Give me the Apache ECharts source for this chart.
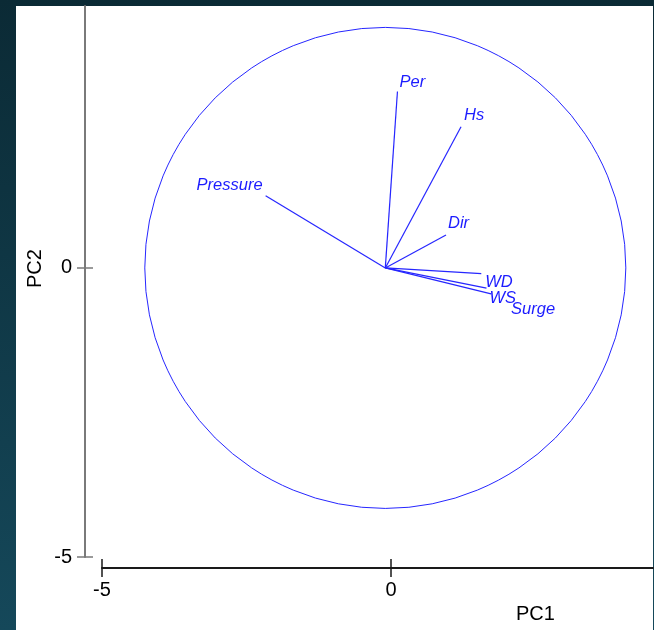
<!DOCTYPE html>
<html>
<head>
<meta charset="utf-8">
<script src="https://cdn.jsdelivr.net/npm/echarts@6/dist/echarts.min.js"></script>
<style>
html,body{margin:0;padding:0;background:#0d2f3b;}
#chart{width:654px;height:630px;}
</style>
</head>
<body>
<div id="chart"></div>
<script>
// Data
const variables = ['Per', 'Hs', 'Pressure', 'Dir', 'WD', 'WS', 'Surge'];
const pc1 = [0.11, 1.21, -2.17, 0.95, 1.56, 1.65, 1.73];
const pc2 = [3.05, 2.44, 1.25, 0.57, -0.10, -0.35, -0.45];
const origin = [-0.1, 0];
const circle = [[-0.1, 0, 4.16]];
const xTicks = [-5, 0];
const yTicks = [-5, 0];

// Styles (label placement relative to vector tip, pixels)
const labelPlace = {
  Per: {align: 'left', offset: [2, -9]},
  Hs: {align: 'left', offset: [3, -11]},
  Pressure: {align: 'right', offset: [-3, -10]},
  Dir: {align: 'left', offset: [2, -12]},
  WD: {align: 'left', offset: [4, 9]},
  WS: {align: 'left', offset: [3, 10]},
  Surge: {align: 'left', offset: [20, 15]}
};
const blue = '#2626ff';
const axisFont = {fontFamily: 'Liberation Sans', fontSize: 20, color: '#000'};

const chart = echarts.init(document.getElementById('chart'), null, {renderer: 'canvas'});

function xAx(inside, show) {
  return {
    type: 'value', min: -5, max: 4.53, interval: 5, position: 'bottom', offset: 11,
    splitLine: {show: false},
    axisLine: {show: show, onZero: false, lineStyle: {color: '#1a1a1a', width: 2}},
    axisTick: {show: true, inside: inside, length: 9, customValues: xTicks, lineStyle: {color: '#1a1a1a', width: 1.5}},
    axisLabel: {show: show, customValues: xTicks, margin: 12, ...axisFont}
  };
}
function yAx(inside, show) {
  return {
    type: 'value', min: -5, max: 4.53, interval: 5, position: 'left', offset: 17,
    splitLine: {show: false},
    axisLine: {show: show, onZero: false, lineStyle: {color: '#7a7a7a', width: 2}},
    axisTick: {show: true, inside: inside, length: 8, customValues: yTicks, lineStyle: {color: '#7a7a7a', width: 1.5}},
    axisLabel: {show: show, customValues: yTicks, margin: 13, ...axisFont}
  };
}

const option = {
  backgroundColor: {
    type: 'linear', x: 0, y: 0, x2: 0, y2: 1,
    colorStops: [{offset: 0, color: '#0b2a35'}, {offset: 1, color: '#15485a'}]
  },
  animation: false,
  graphic: {
    elements: [
      {type: 'rect', z: -10, shape: {x: 16, y: 6, width: 637, height: 624}, style: {fill: '#ffffff'}},
      {type: 'text', left: 516, top: 604, style: {text: 'PC1', font: '20px "Liberation Sans"', fill: '#000'}},
      {type: 'text', x: 25, y: 288, rotation: Math.PI / 2, style: {text: 'PC2', font: '20px "Liberation Sans"', fill: '#000'}}
    ]
  },
  grid: {left: 102, top: 6, width: 551, height: 551, containLabel: false},
  xAxis: [xAx(false, true), xAx(true, false)],
  yAxis: [yAx(false, true), yAx(true, false)],
  series: [
    {
      type: 'custom',
      coordinateSystem: 'cartesian2d',
      data: circle,
      silent: true,
      renderItem: function (params, api) {
        const c = api.coord([api.value(0), api.value(1)]);
        const s = api.size([api.value(2), api.value(2)]);
        return {type: 'circle', shape: {cx: c[0], cy: c[1], r: s[0]}, style: {fill: 'none', stroke: blue, lineWidth: 1}};
      }
    },
    {
      type: 'lines',
      coordinateSystem: 'cartesian2d',
      silent: true,
      lineStyle: {color: blue, width: 1.2, opacity: 1},
      data: variables.map((n, i) => ({coords: [origin, [pc1[i], pc2[i]]]}))
    },
    {
      type: 'scatter',
      symbolSize: 0,
      silent: true,
      itemStyle: {opacity: 1},
      label: {
        show: true, position: 'inside', formatter: '{b}', verticalAlign: 'middle',
        fontFamily: 'Liberation Sans', fontStyle: 'italic', fontSize: 16.5, color: '#1c1cff'
      },
      data: variables.map((n, i) => ({
        name: n, value: [pc1[i], pc2[i]],
        label: {align: labelPlace[n].align, offset: labelPlace[n].offset}
      }))
    }
  ]
};
chart.setOption(option);
</script>
</body>
</html>
